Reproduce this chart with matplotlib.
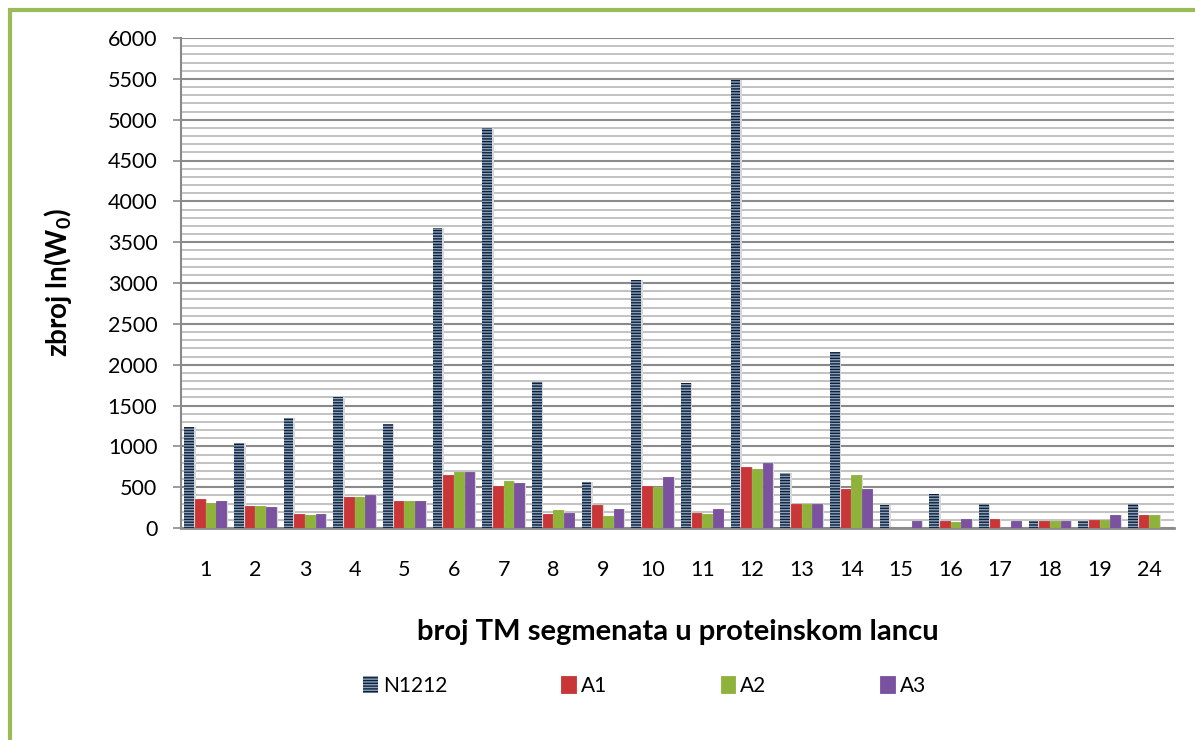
import matplotlib
matplotlib.use("Agg")
import matplotlib.pyplot as plt
from matplotlib.patches import Rectangle
from matplotlib.ticker import MultipleLocator
import numpy as np

plt.rcParams['font.family'] = ['Lato', 'DejaVu Sans']
plt.rcParams['mathtext.fontset'] = 'custom'
plt.rcParams['mathtext.rm'] = 'Lato'
plt.rcParams['mathtext.bf'] = 'Lato:bold'
plt.rcParams['hatch.linewidth'] = 1.0

kategorije = ['1', '2', '3', '4', '5', '6', '7', '8', '9', '10',
              '11', '12', '13', '14', '15', '16', '17', '18', '19', '24']
n1212 = [1240, 1035, 1345, 1600, 1270, 3670, 4900, 1790, 560, 3040,
         1780, 5480, 670, 2160, 280, 415, 300, 85, 85, 300]
a1 = [360, 270, 175, 380, 330, 650, 515, 175, 280, 515,
      180, 745, 290, 475, 0, 85, 110, 85, 95, 160]
a2 = [305, 270, 160, 385, 330, 690, 580, 215, 150, 500,
      175, 720, 290, 645, 0, 70, 0, 85, 95, 160]
a3 = [335, 260, 175, 400, 330, 685, 550, 180, 230, 620,
      230, 790, 290, 475, 85, 110, 85, 90, 160, 0]

serije = ['N1212', 'A1', 'A2', 'A3']
boje = ['#0d2139', '#c83638', '#8fb23a', '#7a529f']

fig = plt.figure(figsize=(11.95, 7.4), dpi=100)
ax = fig.add_axes([181/1195, 1-528/740, 993/1195, 490/740])

x = np.arange(len(kategorije))
sirina = 0.195
korak = 0.215
pomaci = [-1.5*korak, -0.5*korak, 0.5*korak, 1.5*korak]
vrijednosti = [n1212, a1, a2, a3]

rucke = []
for i, (ime, vals, boja) in enumerate(zip(serije, vrijednosti, boje)):
    xs = x + pomaci[i] - 0.01
    # sjena
    ax.bar(xs + 0.035, vals, width=sirina, color='#d8d8d8', zorder=2, linewidth=0)
    if ime == 'N1212':
        b = ax.bar(xs, vals, width=sirina, color=boja, edgecolor='#8aa0bc',
                   hatch='------', linewidth=0, zorder=3, label=ime)
    else:
        b = ax.bar(xs, vals, width=sirina, color=boja, edgecolor=boja,
                   linewidth=0.6, zorder=3, label=ime)
    rucke.append(b)

ax.set_xlim(-0.5, len(kategorije) - 0.5)
ax.set_ylim(0, 6000)
ax.yaxis.set_major_locator(MultipleLocator(500))
ax.yaxis.set_minor_locator(MultipleLocator(100))
ax.grid(which='major', axis='y', color='#8a8a8a', linewidth=1.5)
ax.grid(which='minor', axis='y', color='#bdbdbd', linewidth=1.3)
ax.set_axisbelow(True)

for s in ['top', 'right']:
    ax.spines[s].set_visible(False)
ax.spines['left'].set_color('#8a8a8a')
ax.spines['bottom'].set_color('#8a8a8a')
ax.spines['left'].set_linewidth(1.5)
ax.spines['bottom'].set_linewidth(2)

ax.set_xticks(x)
ax.set_xticklabels(kategorije)
ax.tick_params(axis='x', length=0, pad=23, labelsize=15.5)
ax.tick_params(axis='y', which='major', length=6, width=1.2, color='#8a8a8a',
               pad=11, labelsize=15.5)
ax.tick_params(axis='y', which='minor', length=0)

ax.set_xlabel('broj TM segmenata u proteinskom lancu', fontsize=21,
              fontweight='bold')
ax.xaxis.set_label_coords(0.5, -0.212)
ax.set_ylabel('zbroj ln(W$_\\mathbf{0}$)', fontsize=20, fontweight='bold')
ax.yaxis.set_label_coords(-0.124, 0.5)
ax.xaxis.label.set_va('center')
ax.yaxis.label.set_va('center')

leg = ax.legend(handles=rucke, loc='center', bbox_to_anchor=(0.467, -0.322),
                ncol=4, frameon=False, fontsize=15, handlelength=0.7,
                handleheight=0.9, handletextpad=0.25, columnspacing=5.45)

okvir = Rectangle((10/1195, -0.2), 1.5, 1.2 - 9.5/740, transform=fig.transFigure,
                  fill=False, edgecolor='#9bbb59', linewidth=3)
fig.patches.append(okvir)

fig.savefig('out.png', dpi=100)
